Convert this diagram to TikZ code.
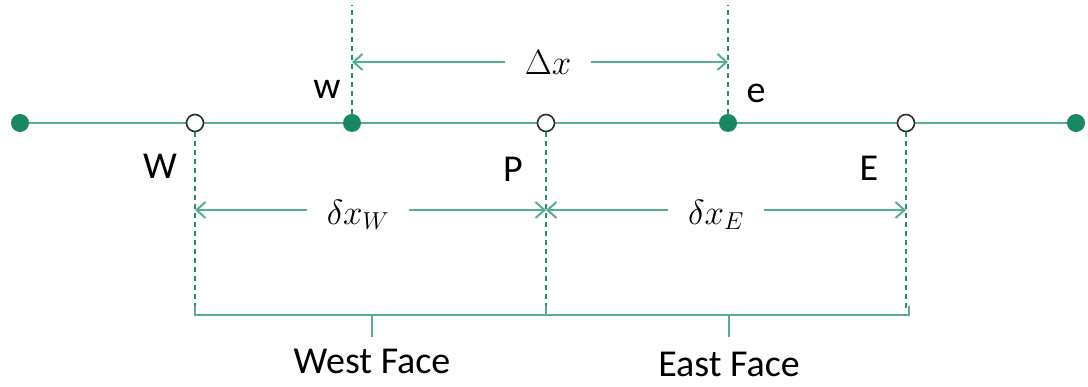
\RequirePackage{fix-cm}
\documentclass[tikz,border=0pt]{standalone}
\usepackage{fontspec}
\setmainfont{Carlito}
\usetikzlibrary{arrows.meta}
\definecolor{lineg}{RGB}{85,175,145}
\definecolor{dotg}{RGB}{25,135,95}
\definecolor{ring}{RGB}{45,45,45}
\tikzset{
  mainline/.style={draw=lineg, line width=2.6pt},
  fdot/.style={circle, fill=dotg, minimum size=18pt, inner sep=0pt},
  odot/.style={circle, fill=white, draw=ring, line width=1.6pt, minimum size=17pt, inner sep=0pt},
  guide/.style={draw=dotg!80!lineg, line width=1.2pt, dash pattern=on 5pt off 4pt},
  dim/.style={draw=lineg, line width=2pt, {Straight Barb[length=9pt,width=16pt]}-{Straight Barb[length=9pt,width=16pt]}},
  brace/.style={draw=lineg, line width=2pt},
  lbl/.style={font=\fontsize{38}{42}\selectfont, text=black, inner sep=0pt},
  mlbl/.style={font=\fontsize{35}{38}\selectfont, fill=white, inner xsep=20pt, inner ysep=2pt},
}
\begin{document}
\begin{tikzpicture}[x=1pt,y=-1pt]
\useasboundingbox (0,0) rectangle (1088,387);
% main line
\coordinate (L) at (20,123);
\coordinate (R) at (1076,123);
\draw[mainline] (L) -- (R);
% points
\node[fdot] (d1) at (20,123) {};
\node[odot] (W) at (195,123) {};
\node[fdot] (w) at (352,123) {};
\node[odot] (P) at (546,123) {};
\node[fdot] (e) at (728,123) {};
\node[odot] (E) at (906,123) {};
\node[fdot] (d7) at (1076,123) {};
% guides
\coordinate (wt) at (352,5);
\coordinate (et) at (728,5);
\coordinate (Wb) at (195,308);
\coordinate (Pb) at (546,308);
\coordinate (Eb) at (906,308);
\draw[guide] (w.north) -- (wt);
\draw[guide] (e.north) -- (et);
\draw[guide] (W.south) -- (Wb);
\draw[guide] (P.south) -- (Pb);
\draw[guide] (E.south) -- (Eb);
% point labels
\node[lbl] (lw) at (327,89) {w};
\node[lbl] (le) at (756,93) {e};
\node[lbl] (lW) at (160,166) {W};
\node[lbl] (lP) at (513,169) {P};
\node[lbl] (lE) at (869,168) {E};
% dimensions
\coordinate (dxa) at (352,62);
\coordinate (dxb) at (728,62);
\draw[dim] (dxa) -- (dxb);
\node[mlbl] (dx) at (548,63) {$\Delta x$};
\coordinate (dwa) at (195,210);
\coordinate (dwb) at (546,210);
\draw[dim] (dwa) -- (dwb);
\node[mlbl] (dxw) at (358,215) {$\delta x_W$};
\coordinate (dea) at (546,210);
\coordinate (deb) at (906,210);
\draw[dim] (dea) -- (deb);
\node[mlbl] (dxe) at (716,215) {$\delta x_E$};
% brackets
\coordinate (b1) at (195,315);
\coordinate (b2) at (546,315);
\coordinate (b3) at (909,315);
\coordinate (bw) at (372,315);
\coordinate (bwt) at (372,337);
\coordinate (be) at (729,315);
\coordinate (bet) at (729,337);
\draw[brace] (195,306) -- (b1) -- (b2) -- (b3) -- (909,306);
\draw[brace] (546,306) -- (b2);
\draw[brace] (bw) -- (bwt);
\draw[brace] (be) -- (bet);
\node[lbl] (wf) at (372,361) {West Face};
\node[lbl] (ef) at (729,364) {East Face};
\end{tikzpicture}
\end{document}
